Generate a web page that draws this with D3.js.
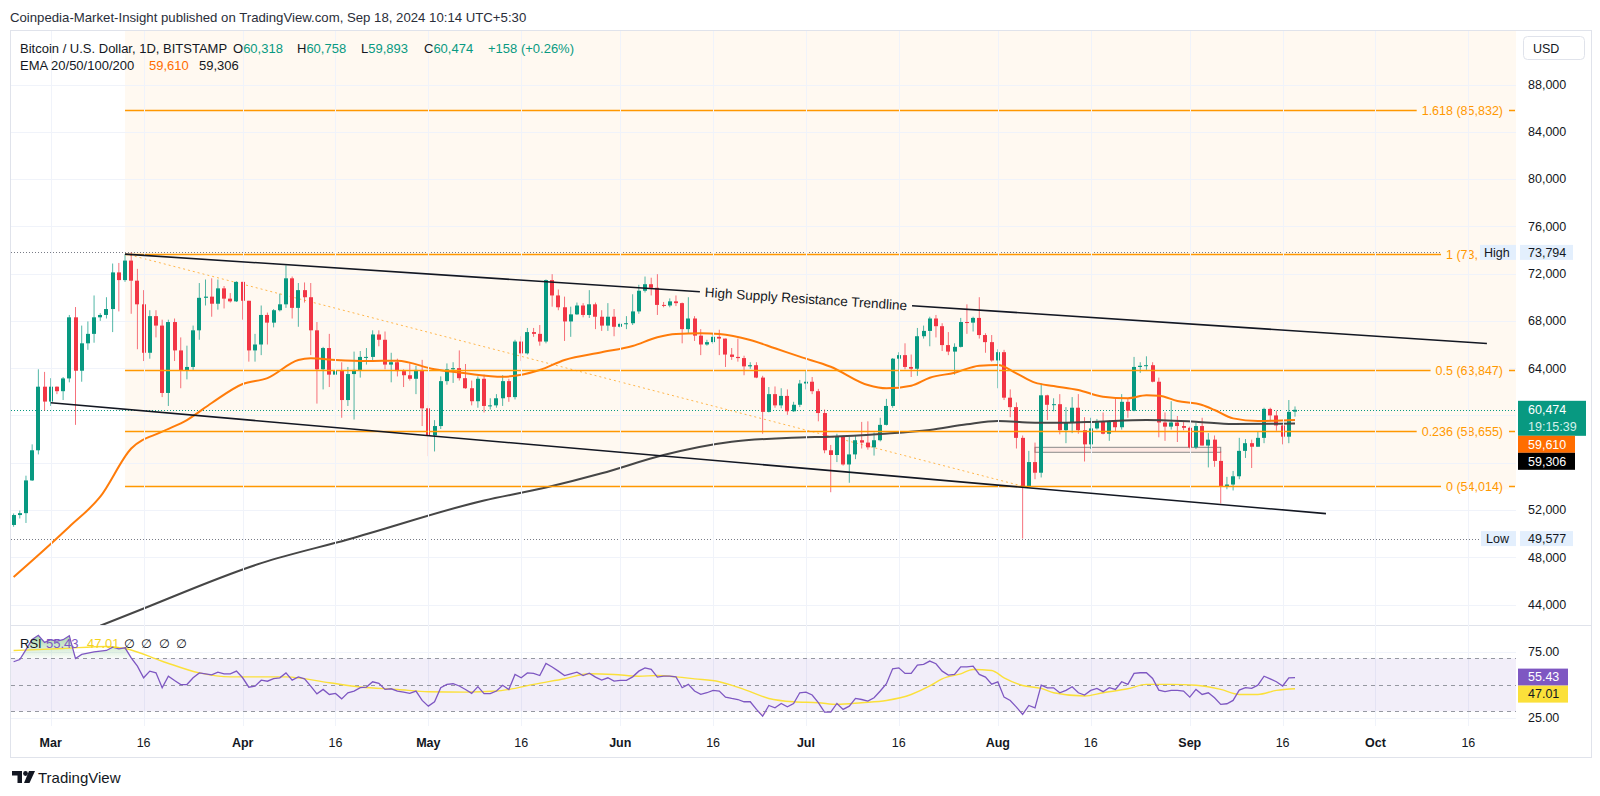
<!DOCTYPE html>
<html><head><meta charset="utf-8">
<script src="https://cdn.jsdelivr.net/npm/d3@7/dist/d3.min.js"></script>
<style>
html,body{margin:0;padding:0;background:#fff;}
svg{display:block;}
</style></head>
<body><svg id="c" width="1600" height="796"></svg>
<script>
// ---------------- DATA ----------------
const firstDay = "2024-02-24";
const opens = [
50730,51570,51730,54500,57050,62430,61170,62430,62050,63130,
68300,63780,66100,66900,68300,68500,69000,72100,71450,73100,
71400,69400,65300,68400,67600,61900,67900,65500,63800,64100,
67200,69950,70050,69450,70750,69880,69650,71300,69700,65500,
66000,68500,67850,68900,69400,71600,69100,70600,70000,67200,
63900,65700,63450,63800,61300,63500,63850,64950,64950,66850,
66400,64300,64500,63750,63400,63100,63850,60600,58300,59100,
62900,63900,64000,63150,62300,61200,63100,60800,60850,61450,
62900,61550,66250,65250,67050,66900,66250,71450,70150,69150,
67950,68550,69300,68500,69400,68350,67600,68350,67500,67750,
67800,68800,70550,71100,70800,69350,69300,69650,69500,67300,
68200,66750,66000,66200,66650,66500,65150,64950,64850,64150,
64250,63200,60300,61800,60850,61650,60350,60900,62700,62850,
62050,60200,57050,56650,58250,55850,56700,57900,57700,57300,
57900,59200,60800,64800,65100,64100,63950,66700,67150,68200,
67550,65950,65400,65800,67900,67850,68250,66800,66200,64650,
65350,61500,60700,58100,54000,56050,55150,61700,60900,60950,
58750,59400,60650,58750,57550,58900,59500,58450,59500,59000,
61150,60400,64100,64200,64250,62850,59400,59050,59400,59100,
58950,57300,59100,57450,57950,56150,53950,54150,54850,57000,
57650,57350,58100,60550,60000,59150,58200,60318];
const highs = [
51700,51950,54900,57550,63900,63680,63150,62450,63250,68500,
69170,67600,67950,70150,68650,70000,72850,72900,73650,73794,
72400,70600,68900,68900,68100,68100,68200,66600,65900,67600,
71200,71500,71600,71500,70950,70350,71350,71300,69700,66900,
69300,68700,69000,70300,72700,71750,71200,71250,71200,67900,
65800,66900,64350,64500,64100,65400,65450,65700,67200,67200,
67100,65300,64800,63900,64400,64200,64700,60850,59600,63300,
64400,64500,65500,64350,62950,63300,63450,61450,61800,63400,
63100,66400,66700,67400,67400,67650,71500,71950,70650,70050,
69200,69550,69500,70600,69550,68900,69500,69000,67850,68400,
70250,71050,71750,71650,71950,69600,69900,70150,69550,70000,
68400,67300,66400,66950,67250,66500,65700,66500,65050,64500,
64500,63350,62400,62450,62300,62200,61150,63000,63800,63250,
62250,60500,57500,58450,58300,58200,58250,59450,59500,58550,
59800,61400,64850,65350,66100,65150,67400,67600,68350,68500,
67800,67050,66100,68250,69400,68350,70000,66950,66800,65600,
65550,62200,61100,58300,57000,57700,62700,61750,61450,61800,
60700,61550,61800,59850,59800,59700,60250,59600,61400,61800,
61400,64950,64500,65000,64500,63200,60250,61200,59950,59450,
59050,59400,59800,58500,58300,56950,54800,55300,58100,58000,
57950,58600,60650,60650,60400,59200,61300,60758];
const lows = [
50580,51280,50900,54450,56700,60400,60800,61800,61300,62800,
59200,62850,65550,66150,68000,68200,67050,68800,71300,68600,
65600,64600,64800,66600,61550,60800,64600,62300,63050,63850,
66400,69300,68350,68950,69050,69550,69600,68100,64550,64550,
65100,66000,67450,68800,69100,68200,67500,69550,65100,61000,
62200,62400,61700,59800,60800,59650,63200,64300,64550,65850,
63900,62800,63300,62400,62950,61800,59100,56550,56950,58850,
62600,62750,62950,62250,60850,60650,60250,60500,60650,60800,
61150,61350,64600,65150,66650,65900,66100,69200,68900,66300,
66650,68500,68300,68250,67300,67150,67150,66700,67400,67300,
67650,68600,70400,70150,68500,69150,69150,69250,66100,66900,
66300,65100,65900,66050,65100,64100,64700,64550,63400,63950,
63150,58450,60250,60650,60600,60050,60300,60700,62200,61800,
59500,56800,53500,56050,55750,54300,56300,57200,57100,56600,
57800,59150,60650,62450,63900,63250,63350,66500,65850,66600,
65450,65100,63450,65750,66900,67100,66500,65300,64550,62300,
61300,59850,57200,49577,53950,54600,54750,59600,60350,58400,
57650,58500,58450,56100,57150,58800,58400,57850,58650,58800,
59800,60350,63600,63850,62800,58150,57850,58800,57750,58750,
57200,57150,57450,55600,55650,52550,53750,53650,54600,56400,
55550,57350,57650,59500,58700,57550,57650,59893];
const closes = [
51570,51730,54500,57050,62430,61170,62430,62050,63130,68300,
63780,66100,66900,68300,68500,69000,72100,71450,73100,71400,
69400,65300,68400,67600,61900,67900,65500,63800,64100,67200,
69950,70050,69450,70750,69880,69650,71300,69700,65500,66000,
68500,67850,68900,69400,71600,69100,70600,70000,67200,63900,
65700,63450,63800,61300,63500,63850,64950,64950,66850,66400,
64300,64500,63750,63400,63100,63850,60600,58300,59100,62900,
63900,64000,63150,62300,61200,63100,60800,60850,61450,62900,
61550,66250,65250,67050,66900,66250,71450,70150,69150,67950,
68550,69300,68500,69400,68350,67600,68350,67500,67750,67800,
68800,70550,71100,70800,69350,69300,69650,69500,67300,68200,
66750,66000,66200,66650,66500,65150,64950,64850,64150,64250,
63200,60300,61800,60850,61650,60350,60900,62700,62850,62050,
60200,57050,56650,58250,55850,56700,57900,57700,57300,57900,
59200,60800,64800,65100,64100,63950,66700,67150,68200,67550,
65950,65400,65800,67900,67850,68250,66800,66200,64650,65350,
61500,60700,58100,54000,56050,55150,61700,60900,60950,58750,
59400,60650,58750,57550,58900,59500,58450,59500,59000,61150,
60400,64100,64200,64250,62850,59400,59050,59400,59100,58950,
57300,59100,57450,57950,56150,53950,54150,54850,57000,57650,
57350,58100,60550,60000,59150,58200,60300,60474];

// EMA lines
const emaOrangeDates = ["2024-02-24","2024-03-02","2024-03-04","2024-03-09","2024-03-14","2024-03-19","2024-03-23","2024-03-27","2024-04-01","2024-04-05","2024-04-10","2024-04-12","2024-04-16","2024-04-21","2024-04-26","2024-05-02","2024-05-07","2024-05-13","2024-05-19","2024-05-23","2024-05-29","2024-06-03","2024-06-07","2024-06-10","2024-06-14","2024-06-17","2024-06-22","2024-06-26","2024-06-30","2024-07-05","2024-07-11","2024-07-14","2024-07-18","2024-07-21","2024-07-25","2024-07-29","2024-08-01","2024-08-04","2024-08-07","2024-08-10","2024-08-14","2024-08-18","2024-08-22","2024-08-25","2024-08-27","2024-08-30","2024-09-03","2024-09-05","2024-09-08","2024-09-12","2024-09-18"];
const emaOrange = [46320,49600,50580,53120,57200,58620,59610,61050,62660,63160,64690,64830,64690,64600,64630,63900,63560,63270,63840,64690,65340,65870,66610,66890,66950,66890,66380,65680,64970,64120,62570,62290,62510,63190,63610,64210,64260,63560,62770,62490,62150,61580,61450,61700,61670,61220,60880,60460,59750,59530,59610];
const emaDarkDates = ["2024-03-09","2024-03-15","2024-04-04","2024-04-18","2024-05-10","2024-05-20","2024-05-29","2024-06-08","2024-06-19","2024-06-30","2024-07-05","2024-07-13","2024-07-21","2024-07-27","2024-08-01","2024-08-07","2024-08-12","2024-08-17","2024-08-25","2024-09-02","2024-09-08","2024-09-18"];
const emaDark = [42200,43450,47500,49500,52800,53900,55100,56650,57770,58130,58200,58430,58760,59250,59530,59380,59380,59470,59610,59470,59270,59306];

// RSI (one value per candle) and its moving average
const rsi = [
67.4,69.1,76.6,84.2,87.4,82,84,83,84,87,
69.8,72.9,73.9,74.9,75.4,75.9,78.4,77.1,77.9,70.4,
64.1,55.3,60.3,59,47.7,56.5,53.2,50.2,50.2,55.3,
59,58.3,57.5,59.6,58.3,58.3,60.3,55.3,48.2,49,
53.5,52.7,54.7,55.3,59,53.5,56,54.5,49,43.2,
46.5,42.7,43.5,39.4,44,45.3,47.8,48.3,52.3,51.1,
46.5,47,45.3,44.5,43.5,45.3,38.2,33.9,37.2,47.8,
50.3,50.8,49.1,46.5,43.5,48.6,43.3,43.3,45.3,49.6,
46.5,57.8,55.3,59,58.6,57,66.1,63.4,60.3,57,
58.3,59.6,57,58.8,55.8,53.5,55.3,52.8,53.3,53.3,
56,60.3,62.8,61.6,55.8,56.5,56.5,56,47.8,50.3,
45.3,42.8,44,45.8,45.3,40.7,39.7,38.9,37.2,37.2,
31.4,26.3,34.4,32.6,35.9,33.4,35.9,44,44.5,42.3,
36.5,29.4,29.4,35.9,31.4,33.9,39.7,38.9,37.7,40.2,
45.3,50.8,62.1,62.8,58.6,58.6,64.9,65.4,67.9,65.9,
60.3,57.3,57.8,63.6,63.6,64.1,57.8,55.8,50.5,52.2,
40.7,38.2,33.2,27.7,34.4,32.6,49.7,47.7,47.7,44,
45.8,48.5,44,42.3,45.8,47.3,44.8,47.8,46.5,52.3,
50.3,58.6,59.1,59.1,54.8,46,44.8,45.8,45.8,45.3,
40.7,46.5,42.7,44,40.2,35.2,35.7,38.2,46,47.8,
47.3,49.7,56.5,54.5,52.3,49.1,55.3,55.43];
const rsiMaDates = ["2024-02-24","2024-03-03","2024-03-10","2024-03-13","2024-03-19","2024-03-25","2024-03-30","2024-04-08","2024-04-15","2024-04-20","2024-04-26","2024-05-01","2024-05-07","2024-05-12","2024-05-14","2024-05-18","2024-05-23","2024-05-27","2024-05-31","2024-06-04","2024-06-07","2024-06-10","2024-06-13","2024-06-17","2024-06-21","2024-06-25","2024-06-29","2024-07-03","2024-07-06","2024-07-10","2024-07-14","2024-07-18","2024-07-21","2024-07-23","2024-07-26","2024-07-28","2024-07-31","2024-08-02","2024-08-05","2024-08-08","2024-08-10","2024-08-15","2024-08-18","2024-08-22","2024-08-25","2024-08-29","2024-09-02","2024-09-06","2024-09-09","2024-09-12","2024-09-15","2024-09-18"];
const rsiMa = [75.9,77.4,78.9,77.4,67.8,59,56,56,51.5,48.3,46.5,44.8,44.5,45.3,46.5,50.3,54.6,58.3,57.8,56.5,57,56,54.5,52.3,46.5,39.7,37.2,36.5,35.2,36.5,38.2,42.7,49.1,54.5,58.3,61.6,60.8,55.3,49.5,47.3,44,41.5,44,47,50.3,50.3,49.7,46.5,42.7,42.7,45.8,47.01];

// Drawings
const fibStartDate = "2024-03-13";
const fibLevels = ["1.618","1","0.5","0.236","0"];
const fibPrices = [85832,73679,63847,58655,54014];
const fibDiagDates = ["2024-03-13","2024-08-05"];
const fibDiagPrices = [73679,54014];
const upperTrendDates = ["2024-03-13","2024-10-19"];
const upperTrendPrices = [73650,66090];
const lowerTrendDates = ["2024-03-01","2024-09-23"];
const lowerTrendPrices = [61065,51690];
const boxDates = ["2024-08-07","2024-09-06"];
const boxPrices = [57300,56880];
const highPrice = 73794, lowPrice = 49577, lastPrice = 60474;

// Axis ticks
const priceTicks = [44000,48000,52000,56000,60000,64000,68000,72000,76000,80000,84000,88000];
const hiddenPriceLabels = [56000,60000];
const timeTickDates = ["2024-03-01","2024-03-16","2024-04-01","2024-04-16","2024-05-01","2024-05-16","2024-06-01","2024-06-16","2024-07-01","2024-07-16","2024-08-01","2024-08-16","2024-09-01","2024-09-16","2024-10-01","2024-10-16"];
const timeTickLabels = ["Mar","16","Apr","16","May","16","Jun","16","Jul","16","Aug","16","Sep","16","Oct","16"];
const rsiTicks = [75,25];

// ---------------- CHART ----------------
const FONT = '"Liberation Sans", Arial, "DejaVu Sans", sans-serif';
const TXT = "#131722", GREEN = "#089981", RED = "#f23645", ORANGE = "#ff9800";
const parse = d3.utcParse("%Y-%m-%d");
const plotL = 11, plotR = 1516, pTop = 31, pBot = 625, rTop = 626, rBot = 726, frameR = 1591, frameB = 757;
const AX = 1528, HIGHBOX = 1480;
const day0 = parse(firstDay).getTime();
const x = d3.scaleUtc().domain([new Date(day0), new Date(day0 + 242.7 * 864e5)]).range([13.6, plotR]);
const y = d3.scaleLinear().domain([44000, 88000]).range([604.5, 84.5]);
const yr = d3.scaleLinear().domain([30, 70]).range([711.3, 658.3]);
const dates = d3.utcDay.range(parse(firstDay), d3.utcDay.offset(parse(firstDay), closes.length));

const svg = d3.select("#c").style("font-family", FONT);
svg.append("rect").attr("width", 1600).attr("height", 796).attr("fill", "#fff");
const defs = svg.append("defs");
defs.append("clipPath").attr("id", "cp").append("rect").attr("x", plotL).attr("y", pTop).attr("width", plotR - plotL).attr("height", pBot - pTop);
defs.append("clipPath").attr("id", "cr").append("rect").attr("x", plotL).attr("y", rTop).attr("width", plotR - plotL).attr("height", rBot - rTop);

// header
svg.append("text").attr("x", 10).attr("y", 22).attr("font-size", 13.2).attr("fill", "#2a2e39")
  .text("Coinpedia-Market-Insight published on TradingView.com, Sep 18, 2024 10:14 UTC+5:30");

// frame
svg.append("rect").attr("x", 10.5).attr("y", 30.5).attr("width", frameR - 10).attr("height", frameB - 30)
  .attr("fill", "none").attr("stroke", "#e0e3eb");
svg.append("line").attr("x1", 11).attr("x2", frameR).attr("y1", pBot + 0.5).attr("y2", pBot + 0.5).attr("stroke", "#e0e3eb");

const gp = svg.append("g").attr("clip-path", "url(#cp)");
// fib background
const fx0 = x(parse(fibStartDate));
gp.append("rect").attr("x", fx0).attr("y", pTop).attr("width", plotR - fx0).attr("height", y(fibPrices[4]) - pTop).attr("fill", "#fff9f1");

// grid
gp.selectAll(".hg").data(priceTicks).join("line").attr("x1", plotL).attr("x2", plotR)
  .attr("y1", d => Math.round(y(d)) + 0.5).attr("y2", d => Math.round(y(d)) + 0.5).attr("stroke", "#f0f3fa");
svg.selectAll(".vg").data(timeTickDates).join("line")
  .attr("x1", d => Math.round(x(parse(d))) + 0.5).attr("x2", d => Math.round(x(parse(d))) + 0.5)
  .attr("y1", pTop).attr("y2", rBot).attr("stroke", "#f0f3fa");
const gr0 = svg.append("g");
gr0.selectAll("line").data(rsiTicks).join("line").attr("x1", plotL).attr("x2", plotR)
  .attr("y1", d => Math.round(yr(d)) + 0.5).attr("y2", d => Math.round(yr(d)) + 0.5).attr("stroke", "#f0f3fa");

// dotted reference lines
function dotted(p, col, x2) {
  gp.append("line").attr("x1", plotL).attr("x2", x2).attr("y1", Math.round(y(p)) + 0.5).attr("y2", Math.round(y(p)) + 0.5)
    .attr("stroke", col).attr("stroke-dasharray", "1,2");
}
dotted(highPrice, "#787b86", plotR);
dotted(lowPrice, "#787b86", plotR);
dotted(lastPrice, "#089981", plotR);

// fib diagonal
gp.append("line").attr("x1", x(parse(fibDiagDates[0]))).attr("y1", y(fibDiagPrices[0]))
  .attr("x2", x(parse(fibDiagDates[1]))).attr("y2", y(fibDiagPrices[1]))
  .attr("stroke", "#ffb74d").attr("stroke-width", 1).attr("stroke-dasharray", "2,3");

// rectangle drawing
gp.append("rect").attr("x", x(parse(boxDates[0]))).attr("y", y(boxPrices[0]))
  .attr("width", x(parse(boxDates[1])) - x(parse(boxDates[0]))).attr("height", y(boxPrices[1]) - y(boxPrices[0]))
  .attr("fill", "rgba(242,54,69,0.08)").attr("stroke", "#8a8a8a").attr("stroke-width", 1);

// candles
const candles = gp.append("g");
dates.forEach((d, i) => {
  const cx = x(d), up = closes[i] >= opens[i], col = up ? GREEN : RED;
  candles.append("line").attr("x1", cx).attr("x2", cx).attr("y1", y(highs[i])).attr("y2", y(lows[i]))
    .attr("stroke", col).attr("stroke-width", 1).attr("stroke-opacity", 0.7);
  const top = y(Math.max(opens[i], closes[i])), bot = y(Math.min(opens[i], closes[i]));
  candles.append("rect").attr("x", Math.round(cx - 2)).attr("width", 4)
    .attr("y", top).attr("height", Math.max(1, bot - top)).attr("fill", col);
});

// EMA lines
const emaLine = d3.line().x(d => x(d[0])).y(d => y(d[1])).curve(d3.curveMonotoneX);
gp.append("path").attr("d", emaLine(emaDarkDates.map((d, i) => [parse(d), emaDark[i]])))
  .attr("fill", "none").attr("stroke", "#464646").attr("stroke-width", 2);
gp.append("path").attr("d", emaLine(emaOrangeDates.map((d, i) => [parse(d), emaOrange[i]])))
  .attr("fill", "none").attr("stroke", "#ff7c0a").attr("stroke-width", 2);

// fib levels (label of a level hidden behind the High tag is cut where the tag starts)
fibPrices.forEach((p, i) => {
  const yy = Math.round(y(p)) + 0.5;
  gp.append("line").attr("x1", fx0).attr("x2", plotR - 1).attr("y1", yy).attr("y2", yy).attr("stroke", ORANGE).attr("stroke-width", 1.6);
  const full = `${fibLevels[i]} (${d3.format(",")(p)})`;
  const t = gp.append("text").attr("x", 1503).attr("y", yy).attr("dy", "0.35em").attr("text-anchor", "end")
    .attr("font-size", 12.5).attr("fill", ORANGE).text(full);
  const bb = t.node().getBBox();
  const hidden = Math.abs(y(p) - y(highPrice)) < 8;
  if (hidden) {
    t.attr("text-anchor", "start").attr("x", bb.x);
    let s = full;
    while (s.length > 1 && bb.x + t.node().getComputedTextLength() > HIGHBOX - 2) { s = s.slice(0, -1); t.text(s); }
  }
  const bw = hidden ? (HIGHBOX - bb.x + 5) : (bb.width + 11);
  gp.insert("rect", () => t.node()).attr("x", bb.x - 5).attr("y", yy - 3).attr("width", bw).attr("height", 6).attr("fill", "#fff9f1");
});

// trendlines
const gt = svg.append("g").attr("clip-path", "url(#cp)");
const lx0 = x(parse(lowerTrendDates[0])), ly0 = y(lowerTrendPrices[0]), lx1 = x(parse(lowerTrendDates[1])), ly1 = y(lowerTrendPrices[1]);
gt.append("line").attr("x1", lx0).attr("y1", ly0).attr("x2", lx1).attr("y2", ly1).attr("stroke", "#131722").attr("stroke-width", 1.6);
const ux0 = x(parse(upperTrendDates[0])), uy0 = y(upperTrendPrices[0]), ux1 = x(parse(upperTrendDates[1])), uy1 = y(upperTrendPrices[1]);
const ang = Math.atan2(uy1 - uy0, ux1 - ux0);
const tc = 0.5, tcx = ux0 + (ux1 - ux0) * tc, tcy = uy0 + (uy1 - uy0) * tc;
const lbl = gt.append("text").attr("transform", `translate(${tcx},${tcy}) rotate(${ang * 180 / Math.PI})`)
  .attr("text-anchor", "middle").attr("dy", "0.35em").attr("font-size", 13.5).attr("fill", "#131722")
  .text("High Supply Resistance Trendline");
const half = lbl.node().getComputedTextLength() / 2 + 5;
gt.append("line").attr("x1", ux0).attr("y1", uy0).attr("x2", tcx - half * Math.cos(ang)).attr("y2", tcy - half * Math.sin(ang))
  .attr("stroke", "#131722").attr("stroke-width", 1.6);
gt.append("line").attr("x1", tcx + half * Math.cos(ang)).attr("y1", tcy + half * Math.sin(ang)).attr("x2", ux1).attr("y2", uy1)
  .attr("stroke", "#131722").attr("stroke-width", 1.6);

// legend
function tx(xp, yp, s, col, size, weight) {
  return svg.append("text").attr("x", xp).attr("y", yp).attr("font-size", size || 13).attr("fill", col || TXT)
    .attr("font-weight", weight || "normal").text(s);
}
tx(20, 52.5, "Bitcoin / U.S. Dollar, 1D, BITSTAMP");
const ohlc = [["O", "60,318", 233], ["H", "60,758", 297], ["L", "59,893", 361], ["C", "60,474", 424]];
ohlc.forEach(o => {
  const t = tx(o[2], 52.5, "");
  t.append("tspan").attr("fill", TXT).text(o[0]);
  t.append("tspan").attr("fill", GREEN).text(o[1]);
});
tx(488, 52.5, "+158 (+0.26%)", GREEN);
tx(20, 69.5, "EMA 20/50/100/200");
tx(149, 69.5, "59,610", "#ff6d00");
tx(199, 69.5, "59,306");

// price axis
svg.append("rect").attr("x", 1523.5).attr("y", 36.5).attr("width", 61).attr("height", 23).attr("rx", 4)
  .attr("fill", "#fff").attr("stroke", "#e0e3eb");
tx(1533, 52.5, "USD", TXT, 12.5);
svg.selectAll(".pl").data(priceTicks.filter(p => !hiddenPriceLabels.includes(p))).join("text")
  .attr("x", AX).attr("y", d => y(d)).attr("dy", "0.35em").attr("font-size", 12.5).attr("fill", TXT)
  .text(d => d3.format(",")(d));

function box(x0, y0, w, h, fill, text, col, anchorX) {
  svg.append("rect").attr("x", x0).attr("y", y0).attr("width", w).attr("height", h).attr("fill", fill);
  svg.append("text").attr("x", anchorX).attr("y", y0 + h / 2).attr("dy", "0.35em").attr("font-size", 12.5)
    .attr("fill", col).text(text);
}
// High / Low
box(HIGHBOX, y(highPrice) - 7.5, 36, 15, "#e3effd", "High", TXT, 1484);
box(1520, y(highPrice) - 7.5, 53, 15, "#e3effd", d3.format(",")(highPrice), TXT, AX);
box(1481, y(lowPrice) - 7.5, 35, 15, "#e3effd", "Low", TXT, 1486);
box(1520, y(lowPrice) - 7.5, 53, 15, "#e3effd", d3.format(",")(lowPrice), TXT, AX);
// last price
const ly = y(lastPrice);
svg.append("rect").attr("x", 1518).attr("y", ly - 9).attr("width", 68).attr("height", 35).attr("fill", GREEN);
svg.append("text").attr("x", AX).attr("y", ly).attr("dy", "0.35em").attr("font-size", 12.5).attr("fill", "#fff").text(d3.format(",")(lastPrice));
svg.append("text").attr("x", AX).attr("y", ly + 17).attr("dy", "0.35em").attr("font-size", 12.5).attr("fill", "#d5f0ea").text("19:15:39");
box(1518, ly + 26, 57, 17, "#ff6d00", d3.format(",")(emaOrange[emaOrange.length - 1]), "#fff", AX);
box(1518, ly + 43, 57, 17, "#000", d3.format(",")(emaDark[emaDark.length - 1]), "#fff", AX);

// ---------------- RSI pane ----------------
const grp = svg.append("g").attr("clip-path", "url(#cr)");
grp.append("rect").attr("x", plotL).attr("width", plotR - plotL).attr("y", yr(70)).attr("height", yr(30) - yr(70)).attr("fill", "rgba(126,87,194,0.1)");
[70, 50, 30].forEach(v => grp.append("line").attr("x1", plotL).attr("x2", plotR)
  .attr("y1", Math.round(yr(v)) + 0.5).attr("y2", Math.round(yr(v)) + 0.5)
  .attr("stroke", "#9598a1").attr("stroke-dasharray", "4,4"));
const gOb = defs.append("linearGradient").attr("id", "gob").attr("gradientUnits", "userSpaceOnUse")
  .attr("x1", 0).attr("x2", 0).attr("y1", yr(90)).attr("y2", yr(70));
gOb.append("stop").attr("offset", "0%").attr("stop-color", "#4caf50").attr("stop-opacity", 0.55);
gOb.append("stop").attr("offset", "100%").attr("stop-color", "#4caf50").attr("stop-opacity", 0.03);
const gOs = defs.append("linearGradient").attr("id", "gos").attr("gradientUnits", "userSpaceOnUse")
  .attr("x1", 0).attr("x2", 0).attr("y1", yr(30)).attr("y2", yr(20));
gOs.append("stop").attr("offset", "0%").attr("stop-color", "#f23645").attr("stop-opacity", 0.03);
gOs.append("stop").attr("offset", "100%").attr("stop-color", "#f23645").attr("stop-opacity", 0.45);
const rsiPts = dates.map((d, i) => [d, rsi[i]]);
grp.append("path").attr("d", d3.area().x(d => x(d[0])).y0(yr(70)).y1(d => yr(Math.max(70, d[1])))(rsiPts)).attr("fill", "url(#gob)");
grp.append("path").attr("d", d3.area().x(d => x(d[0])).y0(yr(30)).y1(d => yr(Math.min(30, d[1])))(rsiPts)).attr("fill", "url(#gos)");

// RSI legend
tx(20, 647.5, "RSI");
tx(46, 647.5, "55.43", "#7e57c2");
tx(87, 647.5, "47.01", "#f4d21e");
[124, 141, 159, 176].forEach(xx => tx(xx, 647.5, "\u2205", TXT, 12.5));

grp.append("path").attr("d", d3.line().x(d => x(parse(d[0]))).y(d => yr(d[1])).curve(d3.curveMonotoneX)(rsiMaDates.map((d, i) => [d, rsiMa[i]])))
  .attr("fill", "none").attr("stroke", "#fbe03a").attr("stroke-width", 1.4);
grp.append("path").attr("d", d3.line().x(d => x(d[0])).y(d => yr(d[1]))(rsiPts))
  .attr("fill", "none").attr("stroke", "#7e57c2").attr("stroke-width", 1.3);

svg.selectAll(".rl").data(rsiTicks).join("text").attr("x", AX).attr("y", d => yr(d)).attr("dy", "0.35em")
  .attr("font-size", 12.5).attr("fill", TXT).text(d => d.toFixed(2));
box(1518, yr(rsi[rsi.length - 1]) - 9, 50, 17, "#7e57c2", "55.43", "#fff", AX);
box(1518, yr(rsi[rsi.length - 1]) + 8, 50, 17, "#fbe03a", "47.01", TXT, AX);

// time axis
svg.selectAll(".tl").data(timeTickDates).join("text")
  .attr("x", d => x(parse(d))).attr("y", 747).attr("text-anchor", "middle").attr("font-size", 12.5)
  .attr("font-weight", (d, i) => isNaN(+timeTickLabels[i]) ? "bold" : "normal").attr("fill", TXT)
  .text((d, i) => timeTickLabels[i]);

// TradingView logo
const lg = svg.append("g").attr("fill", "#131722");
lg.append("path").attr("d", "M12,771 h10 v12 h-4.5 v-7.5 h-5.5 z");
lg.append("circle").attr("cx", 25.5).attr("cy", 773.5).attr("r", 2.4);
lg.append("path").attr("d", "M29,771 h6 l-5.5,12 h-5.5 z");
tx(38, 782.5, "TradingView", "#131722", 15);
</script></body></html>
